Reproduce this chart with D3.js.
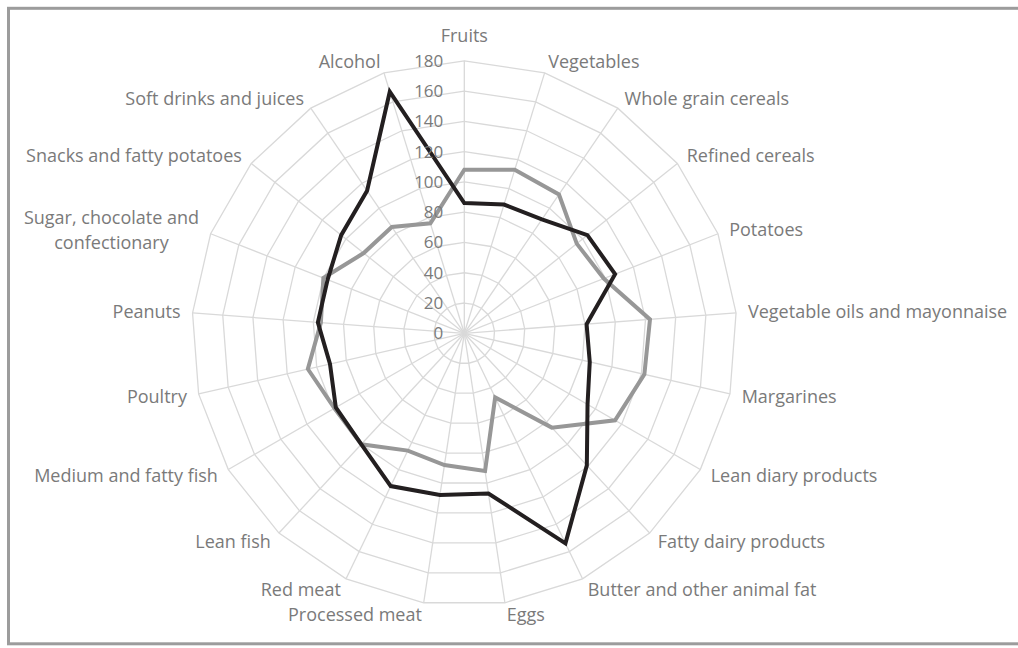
<!DOCTYPE html>
<html>
  <head>
    <meta charset="utf-8">
    <title>Food intake radar</title>
    <script src="https://d3js.org/d3.v7.min.js"></script>
    <style>
      body { margin: 0; background: #fff; }
      text { font-family: "Open Sans", "Noto Sans", sans-serif; fill: #7a7a7a; }
    </style>
  </head>
  <body>
    <div id="chart"></div>
    <script>

      // categories, clockwise from the top
      const categories = [
        'Fruits', 'Vegetables', 'Whole grain cereals', 'Refined cereals', 'Potatoes',
        'Vegetable oils and mayonnaise', 'Margarines', 'Lean diary products',
        'Fatty dairy products', 'Butter and other animal fat', 'Eggs', 'Processed meat',
        'Red meat', 'Lean fish', 'Medium and fatty fish', 'Poultry', 'Peanuts',
        'Sugar, chocolate and|confectionary', 'Snacks and fatty potatoes',
        'Soft drinks and juices', 'Alcohol'
      ];
      const seriesBlack = [86, 89, 91, 104, 107, 81, 85, 94, 119, 154, 107, 108, 112, 100, 98, 91, 97, 97, 104, 114, 167];
      const seriesGray  = [108, 113, 111, 95, 99, 123, 122, 115, 85, 47, 92, 88, 86, 100, 99, 106, 95, 100, 85, 85, 76];
      const ticks = [0, 20, 40, 60, 80, 100, 120, 140, 160, 180];

      const width = 1018, height = 648;
      const cx = 464.3, cy = 333.3, R = 272.5;

      const svg = d3.select('#chart').append('svg')
        .attr('width', width)
        .attr('height', height);

      // outer frame (right edge falls outside the picture)
      svg.append('rect')
        .attr('x', 8.5).attr('y', 8.3)
        .attr('width', 1030).attr('height', 635.5)
        .attr('fill', 'none')
        .attr('stroke', '#9c9c9c')
        .attr('stroke-width', 3);

      const g = svg.append('g').attr('transform', `translate(${cx},${cy})`);

      const angle = d3.scalePoint()
        .domain(d3.range(categories.length + 1))
        .range([0, 2 * Math.PI]);
      const r = d3.scaleLinear().domain([0, 180]).range([0, R]);

      const px = (i, v) => r(v) * Math.sin(angle(i));
      const py = (i, v) => -r(v) * Math.cos(angle(i));

      // rings
      const ring = d3.lineRadial()
        .angle((d, i) => angle(i))
        .radius(d => r(d))
        .curve(d3.curveLinearClosed);

      g.selectAll('.ring').data(ticks.slice(1)).enter().append('path')
        .attr('class', 'ring')
        .attr('d', t => ring(categories.map(() => t)))
        .attr('fill', 'none')
        .attr('stroke', '#d9d9d9')
        .attr('stroke-width', 1.3);

      // spokes
      g.selectAll('.spoke').data(categories).enter().append('line')
        .attr('class', 'spoke')
        .attr('x1', 0).attr('y1', 0)
        .attr('x2', (d, i) => px(i, 180))
        .attr('y2', (d, i) => py(i, 180))
        .attr('stroke', '#d9d9d9')
        .attr('stroke-width', 1.3);

      // series
      const line = d3.lineRadial()
        .angle((d, i) => angle(i))
        .radius(d => r(d))
        .curve(d3.curveLinearClosed);

      g.append('path')
        .attr('d', line(seriesGray))
        .attr('fill', 'none')
        .attr('stroke', '#979797')
        .attr('stroke-width', 4);

      g.append('path')
        .attr('d', line(seriesBlack))
        .attr('fill', 'none')
        .attr('stroke', '#231f20')
        .attr('stroke-width', 4);

      // scale labels
      g.selectAll('.tick').data(ticks).enter().append('text')
        .attr('class', 'tick')
        .attr('x', -21)
        .attr('y', t => -r(t))
        .attr('dy', '0.35em')
        .attr('text-anchor', 'end')
        .style('font-size', '17px')
        .text(t => t);

      // category labels
      const labelR = R + 12;
      const lab = g.selectAll('.cat').data(categories).enter().append('text')
        .attr('class', 'cat')
        .style('font-size', '18px')
        .attr('text-anchor', (d, i) => {
          const s = Math.sin(angle(i));
          return Math.abs(s) < 0.05 ? 'middle' : (s > 0 ? 'start' : 'end');
        })
        .attr('transform', (d, i) => {
          const x = labelR * Math.sin(angle(i));
          let y = -labelR * Math.cos(angle(i));
          if (i === 0) y -= 13;
          return `translate(${x},${y})`;
        });

      lab.each(function(d) {
        const parts = d.split('|');
        const t = d3.select(this);
        if (parts.length === 1) {
          t.append('tspan').attr('x', 0).attr('dy', '0.35em').text(d);
        } else {
          t.attr('text-anchor', 'middle');
          t.append('tspan').attr('x', -88).attr('dy', '-0.3em').text(parts[0]);
          t.append('tspan').attr('x', -88).attr('dy', '1.4em').text(parts[1]);
        }
      });

    </script>
  </body>
</html>
